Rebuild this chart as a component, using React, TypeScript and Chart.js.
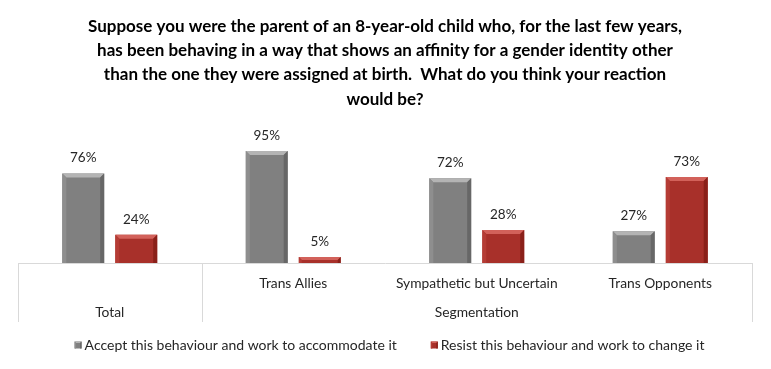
import React, { useEffect, useRef } from "react";
import { Chart, registerables } from "chart.js";

Chart.register(...registerables);

const TITLE_LINES = [
  "Suppose you were the parent of an 8-year-old child who, for the last few years,",
  "has been behaving in a way that shows an affinity for a gender identity other",
  "than the one they were assigned at birth.  What do you think your reaction",
  "would be?",
];

const CATEGORIES = ["Total", "Trans Allies", "Sympathetic but Uncertain", "Trans Opponents"];
const INNER_LABELS = ["", "Trans Allies", "Sympathetic but Uncertain", "Trans Opponents"];
const GROUP_LABELS = ["Total", "Segmentation"];
const GROUP_STARTS = [0, 1];
const GROUP_ENDS = [0, 3];

const SERIES_NAMES = [
  "Accept this behaviour and work to accommodate it",
  "Resist this behaviour and work to change it",
];
const ACCEPT = [76, 95, 72, 27];
const RESIST = [24, 5, 28, 73];

const FONT = "Lato, 'Open Sans', sans-serif";
const TEXT_COLOR = "#262626";
const SHADES = [
  { main: "#808080", top: "#b4b4b4", left: "#8e8e8e", right: "#676767" },
  { main: "#a8302a", top: "#d2615a", left: "#b53c35", right: "#8a2019" },
];

function bevelRect(ctx: any, l: number, t: number, r: number, b: number, bv: number, s: any) {
  ctx.fillStyle = s.top;
  ctx.beginPath();
  ctx.moveTo(l, t);
  ctx.lineTo(r, t);
  ctx.lineTo(r - bv, t + bv);
  ctx.lineTo(l + bv, t + bv);
  ctx.closePath();
  ctx.fill();
  ctx.fillStyle = s.left;
  ctx.beginPath();
  ctx.moveTo(l, t);
  ctx.lineTo(l + bv, t + bv);
  ctx.lineTo(l + bv, b);
  ctx.lineTo(l, b);
  ctx.closePath();
  ctx.fill();
  ctx.fillStyle = s.right;
  ctx.beginPath();
  ctx.moveTo(r, t);
  ctx.lineTo(r - bv, t + bv);
  ctx.lineTo(r - bv, b);
  ctx.lineTo(r, b);
  ctx.closePath();
  ctx.fill();
}

const customPlugin = {
  id: "customDraw",
  afterDatasetsDraw(chart: any) {
    const ctx = chart.ctx;
    chart.data.datasets.forEach((ds: any, di: number) => {
      const meta = chart.getDatasetMeta(di);
      const s = SHADES[di];
      meta.data.forEach((bar: any, i: number) => {
        const { x, y, base, width } = bar.getProps(["x", "y", "base", "width"], true);
        const l = x - width / 2;
        const r = x + width / 2;
        const t = Math.min(y, base);
        const b = Math.max(y, base);
        const bv = Math.min(4, (b - t) / 2);
        ctx.save();
        bevelRect(ctx, l, t, r, b, bv, s);
        ctx.fillStyle = TEXT_COLOR;
        ctx.font = `13.5px ${FONT}`;
        ctx.textAlign = "center";
        ctx.textBaseline = "alphabetic";
        ctx.fillText(ds.data[i] + "%", x, t - 11);
        ctx.restore();
      });
    });
  },
  afterDraw(chart: any) {
    const ctx = chart.ctx;
    const xs = chart.scales.x;
    const area = chart.chartArea;
    const n = CATEGORIES.length;
    const step = (area.right - area.left) / n;
    const edge = (idx: number) => xs.getPixelForValue(idx) - step / 2;
    ctx.save();
    // separators
    ctx.strokeStyle = "#d9d9d9";
    ctx.lineWidth = 1;
    const bounds: number[] = [...GROUP_STARTS, n];
    bounds.forEach((bi) => {
      const px = Math.round(edge(bi)) + 0.5;
      ctx.beginPath();
      ctx.moveTo(px, area.bottom);
      ctx.lineTo(px, area.bottom + 59);
      ctx.stroke();
    });
    // group labels
    ctx.fillStyle = TEXT_COLOR;
    ctx.font = `13.8px ${FONT}`;
    ctx.textAlign = "center";
    ctx.textBaseline = "middle";
    GROUP_LABELS.forEach((g, gi) => {
      const cx = (edge(GROUP_STARTS[gi]) + edge(GROUP_ENDS[gi] + 1)) / 2;
      ctx.fillText(g, cx, area.bottom + 50);
    });
    // legend
    ctx.font = `14px ${FONT}`;
    ctx.textAlign = "left";
    const box = 7;
    const boxGap = 3;
    const itemGap = 34;
    const widths = chart.data.datasets.map((d: any) => ctx.measureText(d.label).width);
    const total = widths.reduce((a: number, w: number) => a + box + boxGap + w, 0) + itemGap * (widths.length - 1);
    let cx = chart.width / 2 + 4 - total / 2;
    const ly = 345;
    chart.data.datasets.forEach((d: any, di: number) => {
      ctx.fillStyle = SHADES[di].main;
      ctx.fillRect(cx, ly - box / 2, box, box);
      bevelRect(ctx, cx, ly - box / 2, cx + box, ly + box / 2, 1.5, SHADES[di]);
      ctx.fillStyle = TEXT_COLOR;
      ctx.fillText(d.label, cx + box + boxGap, ly);
      cx += box + boxGap + widths[di] + itemGap;
    });
    ctx.restore();
  },
};

export default function App() {
  const ref = useRef<HTMLCanvasElement>(null);
  useEffect(() => {
    document.body.style.margin = "0";
    const chart = new Chart(ref.current!, {
      type: "bar",
      data: {
        labels: INNER_LABELS,
        datasets: [
          {
            label: SERIES_NAMES[0],
            data: ACCEPT,
            backgroundColor: SHADES[0].main,
            categoryPercentage: 0.578,
            barPercentage: 0.79,
          },
          {
            label: SERIES_NAMES[1],
            data: RESIST,
            backgroundColor: SHADES[1].main,
            categoryPercentage: 0.578,
            barPercentage: 0.79,
          },
        ],
      },
      options: {
        responsive: false,
        animation: false,
        devicePixelRatio: 1,
        layout: { padding: { left: 18, right: 19, top: 0, bottom: 44 } },
        plugins: {
          title: {
            display: true,
            text: TITLE_LINES,
            color: "#000",
            font: { family: FONT, size: 17, weight: "bold", lineHeight: 24.3 / 17 },
            padding: { top: 14, bottom: 34 },
          },
          legend: { display: false },
          tooltip: { enabled: false },
        },
        scales: {
          x: {
            grid: { display: false, drawTicks: false },
            border: { display: true, color: "#d9d9d9" },
            ticks: {
              autoSkip: false,
              maxRotation: 0,
              color: TEXT_COLOR,
              font: { family: FONT, size: 13.8 },
              padding: 12,
            },
            afterFit: (s: any) => {
              s.height = 62;
            },
          },
          y: {
            display: false,
            min: 0,
            max: 100,
          },
        },
      },
      plugins: [customPlugin],
    });
    return () => chart.destroy();
  }, []);
  return (
    <div style={{ width: 771, height: 369 }}>
      <canvas ref={ref} width={771} height={369} />
    </div>
  );
}
